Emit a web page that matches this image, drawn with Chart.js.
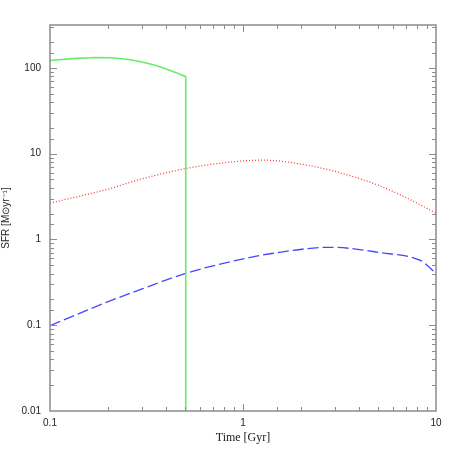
<!DOCTYPE html>
<html>
<head>
<meta charset="utf-8">
<script src="https://cdn.jsdelivr.net/npm/chart.js@4.4.1/dist/chart.umd.min.js"></script>
<style>
  html, body { margin: 0; padding: 0; background: #fff; }
  #wrap { width: 460px; height: 460px; }
</style>
</head>
<body>
<div id="wrap"><canvas id="sfrChart"></canvas></div>
<script>
// star formation histories (Gyr, Msun/yr)
const greenTime = [0.1, 0.13, 0.171, 0.21, 0.255, 0.30, 0.351, 0.40, 0.45, 0.505, 0.505];
const greenSfr  = [122, 128, 132, 131, 125, 117, 107, 97, 88, 79, 0.001];

const redTime = [0.1, 0.2, 0.3, 0.5, 0.86, 1.28, 2.0, 3.0, 4.95, 6.8, 10];
const redSfr  = [2.65, 3.86, 5.1, 6.67, 7.98, 8.4, 7.56, 6.2, 4.34, 3.17, 2.03];

const blueTime = [0.1, 0.2, 0.3, 0.5, 0.86, 1.44, 2.84, 5.16, 8.3, 8.9, 10];
const blueSfr  = [0.099, 0.188, 0.265, 0.40, 0.55, 0.69, 0.81, 0.70, 0.57, 0.51, 0.40];

const xTickLabels = [0.1, 1, 10];
const yTickLabels = [0.01, 0.1, 1, 10, 100];

function toPoints(xs, ys) {
    return xs.map((x, i) => ({ x: x, y: ys[i] }));
}

function isDecade(v) {
    const l = Math.log10(v);
    return Math.abs(l - Math.round(l)) < 1e-6;
}

// frame with inward ticks on all four sides
const framePlugin = {
    id: 'frame',
    afterDatasetsDraw(chart) {
        const ctx = chart.ctx;
        const a = chart.chartArea;
        const xs = chart.scales.x, ys = chart.scales.y;
        ctx.save();
        ctx.strokeStyle = '#8c8c8c';
        ctx.lineWidth = 1.5;
        ctx.strokeRect(a.left, a.top, a.right - a.left, a.bottom - a.top);
        ctx.lineWidth = 1;
        xs.ticks.forEach(t => {
            if (t.value <= xs.min || t.value >= xs.max) return;
            const p = Math.round(xs.getPixelForValue(t.value)) + 0.5;
            const len = isDecade(t.value) ? 7 : 4;
            ctx.beginPath();
            ctx.moveTo(p, a.bottom); ctx.lineTo(p, a.bottom - len);
            ctx.moveTo(p, a.top); ctx.lineTo(p, a.top + len);
            ctx.stroke();
        });
        ys.ticks.forEach(t => {
            if (t.value <= ys.min || t.value >= ys.max) return;
            const p = Math.round(ys.getPixelForValue(t.value)) + 0.5;
            const len = isDecade(t.value) ? 7 : 4;
            ctx.beginPath();
            ctx.moveTo(a.left, p); ctx.lineTo(a.left + len, p);
            ctx.moveTo(a.right, p); ctx.lineTo(a.right - len, p);
            ctx.stroke();
        });
        ctx.restore();
    }
};

function generateChart() {
    const ctx = document.getElementById('sfrChart').getContext('2d');

    const data = {
        datasets: [
            {
                label: 'burst',
                data: toPoints(greenTime, greenSfr),
                borderColor: '#66ee66',
                borderWidth: 1.6,
                pointRadius: 0,
                tension: 0
            },
            {
                label: 'intermediate',
                data: toPoints(redTime, redSfr),
                borderColor: '#ff3838',
                borderWidth: 1.3,
                borderDash: [1, 2],
                pointRadius: 0,
                cubicInterpolationMode: 'monotone'
            },
            {
                label: 'extended',
                data: toPoints(blueTime, blueSfr),
                borderColor: '#4646ff',
                borderWidth: 1.3,
                borderDash: [11, 4],
                pointRadius: 0,
                cubicInterpolationMode: 'monotone'
            }
        ]
    };

    const config = {
        type: 'line',
        data: data,
        options: {
            responsive: true,
            maintainAspectRatio: false,
            animation: false,
            layout: {
                padding: { top: 25, right: 24, left: 0, bottom: 15 }
            },
            scales: {
                x: {
                    type: 'logarithmic',
                    min: 0.1,
                    max: 10,
                    grid: { display: false, drawTicks: false },
                    border: { display: false },
                    afterFit: s => { s.height = 34; },
                    ticks: {
                        autoSkip: false,
                        maxRotation: 0,
                        padding: 6,
                        color: '#222',
                        font: { family: 'Liberation Sans', size: 10 },
                        callback: v => xTickLabels.includes(v) ? String(v) : ''
                    },
                    title: {
                        display: true,
                        text: 'Time [Gyr]',
                        color: '#222',
                        padding: 0,
                        font: { family: 'Liberation Serif', size: 12 }
                    }
                },
                y: {
                    type: 'logarithmic',
                    min: 0.01,
                    max: 316,
                    grid: { display: false, drawTicks: false },
                    border: { display: false },
                    afterFit: s => { s.width = 50; },
                    ticks: {
                        autoSkip: false,
                        padding: 9,
                        color: '#222',
                        font: { family: 'Liberation Sans', size: 10 },
                        callback: v => yTickLabels.includes(v) ? String(v) : ''
                    },
                    title: {
                        display: true,
                        text: 'SFR [M\u2299yr\u207B\u00B9]',
                        color: '#222',
                        padding: 0,
                        font: { family: 'Liberation Sans', size: 10 }
                    }
                }
            },
            plugins: {
                legend: { display: false },
                tooltip: { enabled: false }
            }
        },
        plugins: [framePlugin]
    };

    new Chart(ctx, config);
}

window.onload = generateChart;
</script>
</body>
</html>
